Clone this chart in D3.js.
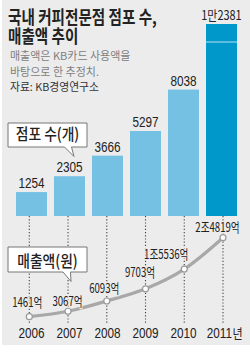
<!DOCTYPE html>
<html><head><meta charset="utf-8">
<script src="https://cdn.jsdelivr.net/npm/d3@7"></script>
<style>
html,body{margin:0;padding:0;background:#fff;}
svg{display:block;}
</style></head>
<body>
<svg id="c" width="250" height="353"></svg>
<script>
// ---- data ----
const years = ["2006","2007","2008","2009","2010","2011"];
const stores = [1254, 2305, 3666, 5297, 8038, 12381];
const storeLabels = ["1254","2305","3666","5297","8038","1만2381"];
const sales = [1461, 3067, 6093, 9703, 15536, 24819]; // 억원
const salesLabels = ["1461억","3067억","6093억","9703억","1조5536억","2조4819억"];
const titleLines = ["국내 커피전문점 점포 수,", "매출액 추이"];
const noteLines = ["매출액은 KB카드 사용액을", "바탕으로 한 추정치."];
const sourceText = "자료: KB경영연구소";
const storeBoxText = "점포 수(개)";
const salesBoxText = "매출액(원)";
const yearSuffix = "년";

// ---- layout (styles) ----
const salesLabelOffset = [[-2,-10],[-0.5,-5],[-2.5,-8],[-5.5,-11.5],[-18,-10],[-5.5,-6]];
const BG = "#ececec";
const BAR = "#74c1e3";
const BAR_LAST = "#0098cb";
const NUMFONT = "'Liberation Sans', Arial, sans-serif";
const KRFONT = "'Noto Sans CJK KR', 'Noto Sans', sans-serif";

const svg = d3.select("#c");

function condense(sel, f){
  sel.each(function(){
    const w = this.getComputedTextLength();
    d3.select(this).attr("textLength", w*f).attr("lengthAdjust","spacingAndGlyphs");
  });
  return sel;
}

svg.append("rect").attr("x",2).attr("y",0).attr("width",248).attr("height",345).attr("fill",BG);

// scales
const x = d3.scaleBand().domain(years).range([12.5, 240.5]).paddingInner(7/38).paddingOuter(3.5/38);
const yBar = d3.scaleLinear().domain([-330, 12381]).range([216, 24]);
const xl = d3.scalePoint().domain(years).range([29.3, 223]);
const yLine = d3.scaleLinear().domain([0, 24819]).range([321.6, 237.7]);

// title
svg.selectAll("text.title").data(titleLines).join("text")
  .attr("class","title")
  .attr("x",8).attr("y",(d,i)=>24+i*18.5)
  .attr("font-family",KRFONT).attr("font-weight","bold").attr("font-size",18)
  .attr("fill","#222").text(d=>d)
  .call(condense, 0.81);

svg.selectAll("text.note").data(noteLines).join("text")
  .attr("class","note")
  .attr("x",10).attr("y",(d,i)=>59.5+i*16)
  .attr("font-family",KRFONT).attr("font-size",11)
  .attr("fill","#808080").text(d=>d)
  .call(condense, 1.0);

svg.append("text").attr("x",10).attr("y",91)
  .attr("font-family",KRFONT).attr("font-size",11)
  .attr("fill","#333").text(sourceText)
  .call(condense, 0.98);

// dotted lines
svg.selectAll("line.dot").data(years).join("line")
  .attr("class","dot")
  .attr("x1",d=>xl(d)).attr("x2",d=>xl(d))
  .attr("y1",yBar(-330)).attr("y2",324)
  .attr("stroke","#444").attr("stroke-width",1.1).attr("stroke-dasharray","1.2,2");

// bars
svg.selectAll("rect.bar").data(stores).join("rect")
  .attr("class","bar")
  .attr("x",(d,i)=>x(years[i]))
  .attr("width",x.bandwidth())
  .attr("y",d=>yBar(d))
  .attr("height",d=>yBar(-330)-yBar(d))
  .attr("fill",(d,i)=>i===stores.length-1?BAR_LAST:BAR);

// light break line in last bar
const li = stores.length-1;
svg.append("line")
  .attr("x1",x(years[li])).attr("x2",x(years[li])+x.bandwidth())
  .attr("y1",yBar(stores[li])+18).attr("y2",yBar(stores[li])+18)
  .attr("stroke","#8fd0ea").attr("stroke-width",1.3);

// bar labels
svg.selectAll("text.bl").data(storeLabels).join("text")
  .attr("class","bl")
  .attr("x",(d,i)=>x(years[i])+x.bandwidth()/2)
  .attr("y",(d,i)=>yBar(stores[i])-4)
  .attr("text-anchor","middle")
  .attr("font-family",(d,i)=>i===li?KRFONT:NUMFONT)
  .attr("font-size",(d,i)=>i===li?13:14)
  .attr("fill","#222").text(d=>d)
  .call(condense, 0.84);

// line
const line = d3.line().x((d,i)=>xl(years[i])).y(d=>yLine(d)).curve(d3.curveMonotoneX);
svg.append("path").datum(sales).attr("d",line)
  .attr("fill","none").attr("stroke","#a8a8a8").attr("stroke-width",3.2).attr("stroke-linecap","round");
svg.selectAll("circle.pt").data(sales).join("circle")
  .attr("class","pt")
  .attr("cx",(d,i)=>xl(years[i])).attr("cy",d=>yLine(d)).attr("r",3)
  .attr("fill","#fff").attr("stroke","#999").attr("stroke-width",1.2);

// line labels
svg.selectAll("text.ll").data(salesLabels).join("text")
  .attr("class","ll")
  .attr("x",(d,i)=>xl(years[i])+salesLabelOffset[i][0])
  .attr("y",(d,i)=>yLine(sales[i])+salesLabelOffset[i][1])
  .attr("text-anchor","middle")
  .attr("font-family",KRFONT).attr("font-size",13)
  .attr("fill","#222")
  .attr("stroke",BG).attr("stroke-width",2.5).attr("paint-order","stroke")
  .text(d=>d)
  .call(condense, 0.74);

// year labels
svg.selectAll("text.yr").data(years).join("text")
  .attr("class","yr")
  .attr("x",(d,i)=>i===li ? x(d)+x.bandwidth()/2+10.5 : x(d)+x.bandwidth()/2)
  .attr("y",338)
  .attr("text-anchor",(d,i)=>i===li?"end":"middle")
  .attr("font-family",NUMFONT).attr("font-size",14)
  .attr("fill","#222").text(d=>d)
  .call(condense, 0.84);
svg.append("text")
  .attr("x",x(years[li])+x.bandwidth()/2+11).attr("y",338)
  .attr("font-family",KRFONT).attr("font-size",13)
  .attr("fill","#222").text(yearSuffix)
  .call(condense, 0.85);

// callout boxes
function callout(y0, y1, bx0, bx1, tx, ty, label, baseline){
  const p = d3.path();
  p.moveTo(8, y0); p.lineTo(87, y0); p.lineTo(87, y1);
  p.lineTo(bx1, y1); p.lineTo(tx, ty); p.lineTo(bx0, y1);
  p.lineTo(8, y1); p.closePath();
  svg.append("path").attr("d",p.toString())
    .attr("fill","#fff").attr("stroke","#777").attr("stroke-width",1);
  svg.append("text").attr("x",47.5).attr("y",baseline)
    .attr("text-anchor","middle")
    .attr("font-family",KRFONT).attr("font-weight","500").attr("font-size",16)
    .attr("fill","#222").text(label)
    .call(condense, 0.86);
}
callout(123, 147, 64.5, 71.5, 74, 156.5, storeBoxText, 140);
callout(247, 272, 63, 70.5, 71, 281.5, salesBoxText, 266.5);
</script>
</body></html>
